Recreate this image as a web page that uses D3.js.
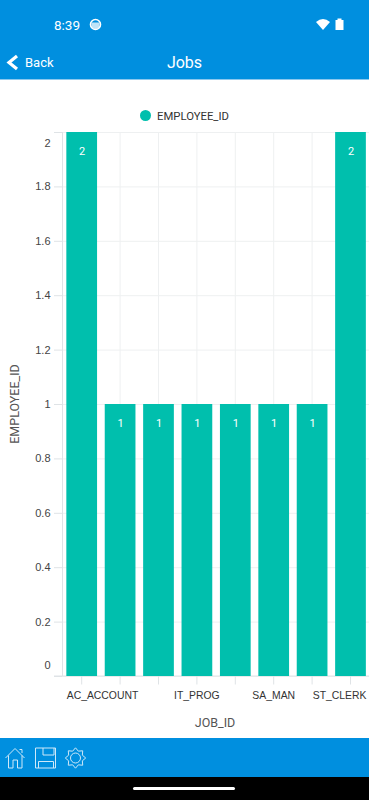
<!DOCTYPE html>
<html>
<head>
<meta charset="utf-8">
<title>Jobs</title>
<script src="https://cdn.jsdelivr.net/npm/d3@7"></script>
<style>
  html, body { margin: 0; padding: 0; background: #fff; overflow: hidden; }
  svg { display: block; font-family: Roboto, sans-serif; }
  .domain { display: none; }
</style>
</head>
<body>
<div id="app"></div>
<script>
// Only these category labels are visible, the chart skips the others
const jobLabels = ["AC_ACCOUNT", "", "", "IT_PROG", "", "SA_MAN", "", "ST_CLERK"];
const employeeCounts = [2, 1, 1, 1, 1, 1, 1, 2];
const yTicks = [0, 0.2, 0.4, 0.6, 0.8, 1, 1.2, 1.4, 1.6, 1.8, 2];

const width = 369, height = 800;
const margin = { top: 132, right: -0.7, bottom: 124, left: 62.5 };
const blue = "#008fdf", teal = "#00bfad", gridColor = "#eef0f1", axisColor = "#dfe3e6";

const svg = d3.select("#app").append("svg")
    .attr("width", width)
    .attr("height", height);

// --- APP CHROME ---
svg.append("rect").attr("width", width).attr("height", 79).attr("fill", blue);
svg.append("rect").attr("y", 79).attr("width", width).attr("height", 1).attr("fill", "#8cc8ee");
svg.append("rect").attr("y", 738).attr("width", width).attr("height", 39).attr("fill", blue);
svg.append("rect").attr("y", 777).attr("width", width).attr("height", 23).attr("fill", "#000");
svg.append("rect").attr("x", 133).attr("y", 787).attr("width", 102).attr("height", 3).attr("rx", 1.5).attr("fill", "#fff");

const chromeText = (x, y, label, size, anchor) => svg.append("text")
    .attr("x", x).attr("y", y)
    .attr("text-anchor", anchor || "start")
    .attr("fill", "#fff")
    .style("font-size", size + "px")
    .text(label);

chromeText(54, 30, "8:39", 13.5);
chromeText(25, 67, "Back", 13);
chromeText(184.5, 68, "Jobs", 16, "middle");

// status icons
svg.append("circle").attr("cx", 95.5).attr("cy", 24.5).attr("r", 5).attr("fill", "none").attr("stroke", "#fff").attr("stroke-width", 1.6);
svg.append("path").attr("d", "M91.5 22.5h8v2.5a4 4 0 0 1-8 0z").attr("fill", "#fff").attr("opacity", 0.75);
svg.append("path").attr("d", "M316 22q7-6 14 0l-7 8z").attr("fill", "#fff");
svg.append("path").attr("d", "M335.500 20h2v-1.500h4v1.500h2v10h-8z").attr("fill", "#fff");
svg.append("path").attr("d", "M17 56l-8 6.500 8 6.500")
    .attr("fill", "none").attr("stroke", "#fff").attr("stroke-width", 3.200);

// bottom bar icons
const iconLine = d => svg.append("path").attr("d", d)
    .attr("fill", "none").attr("stroke", "#cfe9f9").attr("stroke-width", 1);
iconLine("M5.500 758l9.500-9.500 9.500 9.500M8.500 755.500v12.500h4.500v-8h4.500v8h4.500v-12.500M19.500 749.500h2.500v3.500");
iconLine("M35.500 748h20v20h-20zM43 748v7h11v-7M38.500 768v-6.500h15v6.500");
const gear = d3.range(16).map(i => {
    const a = i / 16 * 2 * Math.PI, r = i % 2 ? 7.400 : 10.200;
    return [75.500 + r * Math.cos(a), 758 + r * Math.sin(a)];
});
iconLine(d3.line().curve(d3.curveLinearClosed)(gear));
svg.append("circle").attr("cx", 75.500).attr("cy", 758).attr("r", 5).attr("fill", "none").attr("stroke", "#cfe9f9");

// --- SCALES ---
const x = d3.scaleBand()
    .domain(d3.range(employeeCounts.length))
    .range([margin.left, width - margin.right])
    .paddingInner(0.2)
    .paddingOuter(0.1);

const y = d3.scaleLinear()
    .domain([0, 2])
    .range([height - margin.bottom, margin.top]);

// --- GRID ---
svg.append("g").selectAll("line")
    .data(x.domain())
    .enter().append("line")
    .attr("x1", d => x(d) + x.bandwidth() / 2)
    .attr("x2", d => x(d) + x.bandwidth() / 2)
    .attr("y1", margin.top)
    .attr("y2", height - margin.bottom)
    .attr("stroke", gridColor);

// --- AXES ---
const yAxis = svg.append("g")
    .attr("transform", `translate(${margin.left},0)`)
    .call(d3.axisLeft(y).tickValues(yTicks).tickSize(8.500).tickFormat(d3.format("~g")));
yAxis.selectAll(".tick line").attr("stroke", axisColor);
yAxis.selectAll(".tick").append("line")
    .attr("x2", width - margin.left)
    .attr("stroke", gridColor);
yAxis.selectAll("text")
    .attr("x", -12)
    .attr("fill", "#444")
    .style("font-size", "11px")
    // first and last labels get pushed inside the plot
    .attr("dy", d => d === 2 ? "1.3em" : d === 0 ? "-0.68em" : "0.32em");

svg.append("line")
    .attr("x1", margin.left).attr("x2", margin.left)
    .attr("y1", margin.top).attr("y2", height - margin.bottom)
    .attr("stroke", axisColor);

const xAxis = svg.append("g")
    .attr("transform", `translate(0,${height - margin.bottom})`)
    .call(d3.axisBottom(x).tickSize(8.500).tickFormat(i => jobLabels[i]));
xAxis.selectAll(".tick line").attr("stroke", axisColor);
xAxis.selectAll("text")
    .attr("y", 16)
    .attr("dy", "0.71em")
    .attr("fill", "#333")
    .style("font-size", "10.4px")
    // edge labels are kept inside the canvas
    .attr("text-anchor", (d, i) => i === 0 ? "start" : i === jobLabels.length - 1 ? "end" : "middle")
    .attr("dx", (d, i) => i === 0 ? -15 : i === jobLabels.length - 1 ? 16 : 0);

svg.append("line")
    .attr("x1", 54).attr("x2", width)
    .attr("y1", height - margin.bottom).attr("y2", height - margin.bottom)
    .attr("stroke", axisColor);

// --- BARS ---
svg.append("g").selectAll("rect")
    .data(employeeCounts)
    .enter().append("rect")
    .attr("x", (d, i) => x(i))
    .attr("y", d => y(d))
    .attr("width", x.bandwidth())
    .attr("height", d => y(0) - y(d))
    .attr("fill", teal);

svg.append("g").selectAll("text")
    .data(employeeCounts)
    .enter().append("text")
    .attr("x", (d, i) => x(i) + x.bandwidth() / 2 + 0.5)
    .attr("y", d => y(d) + 19)
    .attr("dy", "0.35em")
    .attr("text-anchor", "middle")
    .attr("fill", "#fff")
    .style("font-size", "11px")
    .text(d => d);

// --- LEGEND AND TITLES ---
svg.append("circle").attr("cx", 145.500).attr("cy", 115.500).attr("r", 5.500).attr("fill", teal);
svg.append("text").attr("x", 157).attr("y", 119.500)
    .attr("fill", "#333").style("font-size", "11.3px").text("EMPLOYEE_ID");

svg.append("text")
    .attr("x", 215).attr("y", 727)
    .attr("text-anchor", "middle")
    .attr("fill", "#555")
    .style("font-size", "12.5px")
    .text("JOB_ID");

svg.append("text")
    .attr("transform", "translate(19,404) rotate(-90)")
    .attr("text-anchor", "middle")
    .attr("fill", "#555")
    .style("font-size", "12.5px")
    .text("EMPLOYEE_ID");
</script>
</body>
</html>
